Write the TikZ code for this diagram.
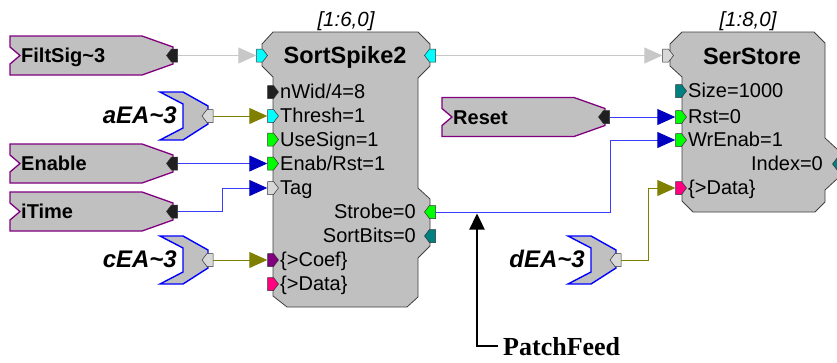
\documentclass[tikz,border=0pt]{standalone}
\usepackage{fontspec}
\setmainfont{Liberation Sans}
\newfontfamily\pffont{Liberation Serif}
\usetikzlibrary{arrows.meta}
\usetikzlibrary{positioning}

\definecolor{boxgray}{HTML}{C0C0C0}
\definecolor{blkline}{HTML}{404040}
\definecolor{modpurple}{HTML}{800080}
\definecolor{eablue}{HTML}{0000FF}
\definecolor{wiregray}{HTML}{C8C8C8}
\definecolor{wireblue}{HTML}{3C3CFF}
\definecolor{tipblue}{HTML}{0000C0}
\definecolor{eaolive}{HTML}{808000}
\definecolor{pcyan}{HTML}{00FFFF}
\definecolor{pgreen}{HTML}{00FF00}
\definecolor{pteal}{HTML}{008080}
\definecolor{ppink}{HTML}{FF0080}
\definecolor{ppurple}{HTML}{800080}
\definecolor{pblack}{HTML}{202020}
\definecolor{plight}{HTML}{D8D8D8}

\newcommand{\inport}[3]{%
  \node[portnode] (#1) at (#2) {};
  \draw[portline,fill=#3] (#2) ++(-5.5,-6.5) -- ++(6,0) -- ++(5,6.5) -- ++(-5,6.5) -- ++(-6,0) -- cycle;}
\newcommand{\outport}[3]{%
  \node[portnode] (#1) at (#2) {};
  \draw[portline,fill=#3] (#2) ++(5.5,-6.5) -- ++(-6,0) -- ++(-5,6.5) -- ++(5,6.5) -- ++(6,0) -- cycle;}
\newcommand{\inmod}[4]{%
  \draw[modline] (#2,#3) -- ++(132,0) -- ++(31,11) -- ++(0,17) -- ++(-31,11) -- ++(-132,0) -- ++(0,-11) -- ++(10,-8.5) -- ++(-10,-8.5) -- cycle;
  \node[modtext,anchor=base west] (#1) at (#2+11,#3+26.5) {#4};
  \outport{#1-out}{#2+162,#3+19.5}{pblack}}
\newcommand{\eamod}[4]{%
  \draw[ealine] (#2,#3) -- ++(23,0) -- ++(25,14) -- ++(0,18) -- ++(-25,16) -- ++(-23,0) -- ++(23,-12) -- ++(0,-24) -- cycle;
  \node[eatext,anchor=base east] (#1) at (#2+17,#3+31) {#4};
  \outport{#1-out}{#2+47.5,#3+24}{plight}}

\begin{document}
\begin{tikzpicture}[x=1pt, y=-1pt,
    blk/.style={draw=blkline, fill=boxgray, line width=0.8pt},
    modline/.style={draw=modpurple, fill=boxgray, line width=1.3pt},
    ealine/.style={draw=eablue, fill=boxgray, line width=1.4pt},
    portnode/.style={minimum width=11pt, minimum height=13pt, inner sep=0pt},
    portline/.style={draw=black!80, line width=0.5pt},
    plabel/.style={font=\fontsize{20}{22}\selectfont, inner sep=0pt},
    ttl/.style={font=\fontsize{23.5}{26}\selectfont\bfseries, inner sep=0pt},
    idx/.style={font=\fontsize{20.5}{22}\selectfont\itshape, inner sep=0pt},
    modtext/.style={font=\fontsize{20}{22}\selectfont\bfseries, inner sep=0pt},
    eatext/.style={font=\fontsize{24}{26}\selectfont\bfseries\itshape, inner sep=0pt},
    pftext/.style={font=\fontsize{26}{28}\selectfont\pffont\bfseries, inner sep=0pt},
    gwire/.style={draw=wiregray, line width=1pt, -{Triangle[length=18pt,width=16pt,color=wiregray]}},
    bwire/.style={draw=wireblue, line width=1pt, -{Triangle[length=18pt,width=16pt,color=tipblue]}},
    owire/.style={draw=eaolive, line width=1pt, -{Triangle[length=18pt,width=16pt,color=eaolive]}},
    pfarrow/.style={draw=black, line width=2.4pt, -{Triangle[length=16pt,width=15pt]}}]
    \useasboundingbox (0,0) rectangle (837,362);

    \draw[blk] (273,32) -- (418,32) -- (430,44) -- (430,66) -- (418,78) -- (418,188) -- (430,199) -- (430,246) -- (418,258) -- (418,297) -- (407,307) -- (287,307) -- (273,296) -- (273,77) -- (262,66) -- (262,44) -- cycle;
    \draw[blk] (682,32) -- (814,32) -- (825,43) -- (825,138) -- (838,150) -- (838,178) -- (825,190) -- (825,202) -- (815,212) -- (693,212) -- (682,201) -- (682,77) -- (670,66) -- (670,44) -- cycle;

    \node[ttl, anchor=base] (sstitle) at (345,63) {SortSpike2};
    \node[idx, anchor=base] (ssidx) at (346,26) {[1:6,0]};
    \node[ttl, anchor=base] (sttitle) at (752,64) {SerStore};
    \node[idx, anchor=base] (stidx) at (748,26) {[1:8,0]};

    \inport{ssin}{262,55.5}{pcyan}
    \inport{nwid}{273,92}{pblack}
    \inport{thresh}{273,116}{pcyan}
    \inport{usesign}{273,139.5}{pgreen}
    \inport{enab}{273,163.5}{pgreen}
    \inport{tag}{273,188}{plight}
    \inport{coef}{273,260}{ppurple}
    \inport{ssdata}{273,284}{ppink}
    \outport{ssout}{430,55.5}{pcyan}
    \outport{strobe}{430,212}{pgreen}
    \outport{sortbits}{430,236}{pteal}

    \node[plabel, anchor=base west] (lnwid) at (280,98.5) {nWid/4=8};
    \node[plabel, anchor=base west] (lthresh) at (280,122.5) {Thresh=1};
    \node[plabel, anchor=base west] (lusesign) at (280,146) {UseSign=1};
    \node[plabel, anchor=base west] (lenab) at (280,170) {Enab/Rst=1};
    \node[plabel, anchor=base west] (ltag) at (280,194.5) {Tag};
    \node[plabel, anchor=base west] (lcoef) at (280,266.5) {\{>Coef\}};
    \node[plabel, anchor=base west] (lssdata) at (280,290.5) {\{>Data\}};
    \node[plabel, anchor=base east] (lstrobe) at (416,218.5) {Strobe=0};
    \node[plabel, anchor=base east] (lsortbits) at (416,242.5) {SortBits=0};

    \inport{stin}{668,55.5}{plight}
    \inport{size}{681,91}{pteal}
    \inport{rst}{681,117}{pgreen}
    \inport{wrenab}{681,140}{pgreen}
    \inport{stdata}{681,188}{ppink}
    \outport{index}{838,164}{pteal}

    \node[plabel, anchor=base west] (lsize) at (688,97.5) {Size=1000};
    \node[plabel, anchor=base west] (lrst) at (688,123.5) {Rst=0};
    \node[plabel, anchor=base west] (lwrenab) at (688,146.5) {WrEnab=1};
    \node[plabel, anchor=base east] (lindex) at (823,170.5) {Index=0};
    \node[plabel, anchor=base west] (lstdata) at (688,194.5) {\{>Data\}};

    \inmod{filtsig}{10}{36}{FiltSig\textasciitilde3}
    \inmod{enable}{10}{144}{Enable}
    \inmod{itime}{10}{192}{iTime}
    \inmod{reset}{442}{97.5}{Reset}
    \eamod{aea}{160}{92}{aEA\textasciitilde3}
    \eamod{cea}{160}{236}{cEA\textasciitilde3}
    \eamod{dea}{568}{236}{dEA\textasciitilde3}

    \draw[gwire] (filtsig-out) -- (ssin);
    \draw[owire] (aea-out) -- (thresh);
    \draw[bwire] (enable-out) -- (enab);
    \draw[bwire] (itime-out) -- ++(50,0) |- (tag);
    \draw[owire] (cea-out) -- (coef);
    \draw[gwire] (ssout) -- (stin);
    \draw[bwire] (reset-out) -- (rst);
    \draw[bwire] (strobe) -- ++(180,0) |- (wrenab);
    \draw[owire] (dea-out) -- ++(33,0) |- (stdata);

    \node[pftext, anchor=base west] (pf) at (503,355) {PatchFeed};
    \coordinate (tap) at (477,213.5);
    \draw[pfarrow] ([xshift=-5pt]pf.west) -| (tap);
\end{tikzpicture}
\end{document}
